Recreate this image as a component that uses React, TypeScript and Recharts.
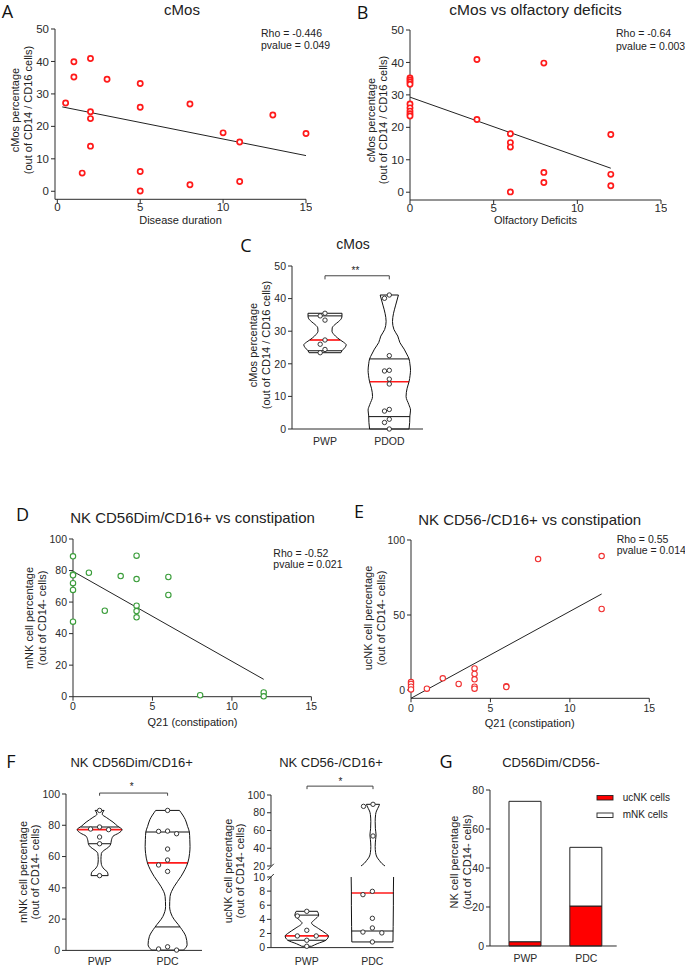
import React from 'react'
import { ScatterChart, Scatter, XAxis, YAxis, ReferenceLine, BarChart, Bar } from 'recharts'

// ---- A: cMos vs disease duration
const durationX = [0.5, 1, 1, 1.5, 2, 2, 2, 2, 3, 5, 5, 5, 5, 8, 8, 10, 11, 11, 13, 15]
const durationCmos = [27.2, 39.9, 35.2, 5.6, 40.9, 24.5, 22.4, 13.9, 34.5, 33.2, 25.9, 6.1, 0.1, 26.9, 2.0, 18.0, 15.2, 3.0, 23.5, 17.8]
const fitA = [{ x: 0.3, y: 26.0 }, { x: 15, y: 11.0 }]

// ---- B: cMos vs olfactory deficits
const olfactoryX = [0, 0, 0, 0, 0, 0, 0, 0, 0, 4, 4, 6, 6, 6, 6, 8, 8, 8, 12, 12, 12]
const olfactoryCmos = [35.2, 34.6, 34.0, 33.3, 27.2, 26.0, 25.0, 24.2, 23.5, 40.9, 22.4, 18.0, 15.3, 13.9, 0.1, 39.8, 6.1, 3.0, 17.8, 5.5, 2.0]
const fitB = [{ x: 0, y: 29.3 }, { x: 12, y: 7.4 }]

// ---- C: cMos violins
const cmosPWP = [35.5, 34.7, 33.4, 27.3, 26.0, 24.4, 23.4]
const cmosPDOD = [41.1, 40.1, 22.5, 18.0, 17.8, 15.3, 13.8, 6.0, 5.5, 3.0, 2.0, 0.0]
const statsCmosPWP = [24.0, 27.3, 34.7] // q1, median, q3
const statsCmosPDOD = [3.8, 14.5, 21.5]
// relative density [value, width 0..1]
const densCmosPWP = [[23.4, 0.75], [24, 0.8], [25, 0.94], [25.8, 1], [26.6, 0.88], [27.3, 0.72], [28, 0.58], [29, 0.42], [30, 0.33], [31, 0.34], [32, 0.46], [33, 0.65], [34, 0.78], [34.7, 0.8], [35.5, 0.8]]
const densCmosPDOD = [[0, 0.93], [2, 0.96], [4, 0.97], [5.8, 1.0], [7.5, 0.92], [10, 0.79], [12.5, 0.84], [14.5, 0.93], [16.5, 0.98], [18, 1.0], [20, 0.97], [21.5, 0.93], [23, 0.82], [24.5, 0.7], [26.5, 0.5], [28.5, 0.4], [30.5, 0.22], [33, 0.15], [35.5, 0.2], [38, 0.3], [41.1, 0.43]]

// ---- D: mNK vs constipation
const constipationD = [0, 0, 0, 0, 0, 0, 1, 2, 3, 4, 4, 4, 4, 4, 6, 6, 8, 12, 12]
const mnkD = [89, 77.5, 77, 72, 67.7, 47.6, 78.6, 54.5, 76.5, 89.4, 74.6, 57.7, 54.3, 50.3, 75.9, 64.5, 0.9, 2.7, 0.2]
const fitD = [{ x: 0, y: 79.5 }, { x: 12, y: 11 }]

// ---- E: ucNK vs constipation
const constipationE = [0, 0, 0, 0, 1, 2, 3, 4, 4, 4, 4, 4, 6, 6, 8, 12, 12]
const ucnkE = [5.3, 4.0, 2.2, 0.4, 0.9, 7.8, 4.0, 14.4, 10.7, 7.1, 2.2, 0.9, 2.5, 2.0, 87.3, 89.3, 54.0]
const fitE = [{ x: 0, y: -5.5 }, { x: 12, y: 64 }]

// ---- F: violins mNK / ucNK
const mnkPWP = [89.5, 78.9, 77.6, 77.2, 72.5, 68.2, 47.8]
const mnkPDC = [89.5, 76.3, 76.1, 74.6, 64.8, 57.8, 54.6, 50.5, 2.3, 0.9, 0.2]
const statsMnkPWP = [68.2, 77.2, 78.9]
const statsMnkPDC = [15, 56, 75.7]
const densMnkPWP = [[47.8, 0.38], [50, 0.35], [52, 0.2], [55, 0.08], [58, 0.06], [62, 0.08], [64, 0.2], [66, 0.4], [68.2, 0.5], [70, 0.52], [73, 0.6], [75, 0.85], [77.2, 1.0], [79.5, 0.8], [82, 0.6], [85, 0.3], [87, 0.12], [88.5, 0.15], [89.5, 0.2]]
const densMnkPDC = [[0.2, 0.71], [3.6, 0.87], [9, 0.81], [14.7, 0.57], [21.7, 0.21], [28, 0.09], [34.5, 0.11], [41, 0.3], [47.3, 0.6], [56, 0.9], [62, 0.98], [66.5, 1.0], [71, 0.99], [75.7, 0.97], [79.3, 0.89], [83.6, 0.79], [89.5, 0.53]]

const ucnkPWP = [5.14, 4.48, 2.45, 1.65, 1.65, 1.04, 0.19]
const ucnkPDC = [89.5, 87.2, 53.8, 7.97, 7.5, 4.15, 2.78, 2.2, 2.08, 0.8]
const statsUcnkPWP = [1.04, 1.65, 4.6]
const statsUcnkPDC = [2.35, 7.73, null]
const densUcnkPWP = [[0.19, 0.23], [0.55, 0.48], [1.04, 0.88], [1.65, 1.0], [2.0, 0.88], [2.7, 0.54], [3.5, 0.22], [3.9, 0.34], [4.6, 0.55], [5.14, 0.49]]
const densUcnkPDC = [[0.8, 0.95], [3, 0.96], [6, 0.97], [8, 0.97], [10, 0.98], [20, 0.55], [23, 0.4], [26, 0.3], [30, 0.18], [35, 0.12], [42, 0.1], [50, 0.12], [55, 0.14], [62, 0.11], [70, 0.1], [78, 0.12], [82, 0.16], [85, 0.22], [88, 0.28], [89.5, 0.3]]

// ---- G: stacked means
const groupsG = ['PWP', 'PDC']
const ucnkMean = [2.2, 20.5]
const mnkMean = [72.0, 30.1]

const FONT = '"Liberation Sans", Arial, Helvetica, sans-serif'
const AX = '#2a2a2a'
const RED = '#ff1a1a'
const H = 0.33 // violin max half width in category units

const axisProps = (size = 10.5) => ({
  stroke: AX,
  tick: { fill: AX, fontSize: size, fontFamily: FONT },
  tickSize: 4,
  interval: 0 as const,
})

function frame(l: number, t: number, r: number, b: number, o: any = {}) {
  const yw = o.yw ?? 40, xh = o.xh ?? 22, mt = o.mt ?? 6, mr = o.mr ?? 6, mb = o.mb ?? 0
  return {
    style: { position: 'absolute' as const, left: l - yw, top: t - mt },
    width: r - l + yw + mr,
    height: b - t + mt + xh + mb,
    margin: { top: mt, right: mr, bottom: mb, left: 0 },
    yw, xh,
  }
}

const pts = (xs: number[], ys: number[]) => xs.map((x, i) => ({ x, y: ys[i] }))
const noDot = () => null
const ring = (color: string, r: number, sw: number) => (p: any) =>
  <circle cx={p.cx} cy={p.cy} r={r} fill="#fff" stroke={color} strokeWidth={sw} />

function widthAt(d: number[][], v: number) {
  for (let i = 0; i < d.length - 1; i++) {
    const [v0, r0] = d[i], [v1, r1] = d[i + 1]
    if (v >= v0 && v <= v1) return r0 + (r1 - r0) * (v - v0) / (v1 - v0)
  }
  return v < d[0][0] ? d[0][1] : d[d.length - 1][1]
}

function clip(d: number[][], lo: number, hi: number) {
  const out = d.filter(([v]) => v >= lo && v <= hi)
  if (lo > d[0][0] && (!out.length || out[0][0] > lo)) out.unshift([lo, widthAt(d, lo)])
  if (hi < d[d.length - 1][0] && out[out.length - 1][0] < hi) out.push([hi, widthAt(d, hi)])
  return out
}

function violin(id: string, c: number, d: number[][], stats: (number | null)[], lo = -1e9, hi = 1e9) {
  const p = clip(d, lo, hi)
  const side = (s: number) => p.map(([v, r]) => ({ x: c + s * r * H, y: v })).reverse()
  const els: any[] = [-1, 1].map(s => (
    <Scatter key={id + s} data={side(s)} line={{ stroke: '#111', strokeWidth: 1 }} lineJointType="monotoneY"
      shape={noDot} isAnimationActive={false} />
  ))
  const seg = (v: number, color: string, w: number, k: string) => {
    const r = widthAt(d, v) * H
    return <ReferenceLine key={id + k} segment={[{ x: c - r, y: v }, { x: c + r, y: v }]} stroke={color} strokeWidth={w} ifOverflow="visible" />
  }
  const first = d[0][0], last = d[d.length - 1][0]
  if (first >= lo) els.push(seg(first, '#111', 1, 'b'))
  if (last <= hi) els.push(seg(last, '#111', 1, 't'))
  stats.forEach((v, i) => {
    if (v != null && v >= lo && v <= hi && i !== 1) els.push(seg(v, '#111', 1, 's' + i))
  })
  if (stats[1] != null && stats[1] >= lo && stats[1] <= hi) els.push(seg(stats[1], RED, 1.7, 'm'))
  return els
}

// simple beeswarm: offsets picked so rings do not overlap (in pixels)
function swarm(c: number, values: number[], stepPx: number, pxV: number, pxC: number, minD: number) {
  const placed: { v: number; dx: number }[] = []
  const out: { x: number; y: number }[] = new Array(values.length)
  const order = values.map((v, i) => ({ v, i })).sort((a, b) => b.v - a.v)
  for (const p of order) {
    for (const s of [0, -1, 1, -2, 2, -3, 3]) {
      const dx = s * stepPx
      const ok = placed.every(q => Math.hypot(q.dx - dx, (q.v - p.v) * pxV) >= minD)
      if (ok) { placed.push({ v: p.v, dx }); out[p.i] = { x: c + dx / pxC, y: p.v }; break }
    }
  }
  return out
}

function Txt({ x, y, children, size = 11, anchor = 'middle', rotate = false, family = FONT, color = '#222' }: any) {
  const tx = anchor === 'middle' ? '-50%' : anchor === 'end' ? '-100%' : '0'
  return (
    <div style={{
      position: 'absolute', left: x, top: y, whiteSpace: 'nowrap', lineHeight: 1,
      transform: `translate(${tx},-50%)${rotate ? ' rotate(-90deg)' : ''}`,
      fontSize: size, fontFamily: family, color,
    }}>{children}</div>
  )
}

function Corr({ f, xAxis, yAxis, children }: any) {
  return (
    <div style={f.style}>
      <ScatterChart width={f.width} height={f.height} margin={f.margin}>
        {xAxis}
        {yAxis}
        {children}
      </ScatterChart>
    </div>
  )
}

const xNum = (f: any, domain: number[], ticks: number[], size = 10.5, margin = 2) => (
  <XAxis type="number" dataKey="x" domain={domain} ticks={ticks} height={f.xh} {...axisProps(size)} tickMargin={margin} />
)
const yNum = (f: any, domain: number[], ticks: number[], size = 10.5) => (
  <YAxis type="number" dataKey="y" domain={domain} ticks={ticks} width={f.yw} {...axisProps(size)} />
)
const xCat = (f: any, domain: number[], names: string[], margin: number, hide = false) => (
  <XAxis type="number" dataKey="x" domain={domain} ticks={[1, 2]} tickFormatter={(v: number) => names[v - 1]}
    height={f.xh} hide={hide} {...axisProps(10.5)} tickLine={false} tickMargin={margin} />
)

export default function App() {
  const fA = frame(55, 29, 306, 199.3)
  const fB = frame(410, 30, 661, 200)
  const fC = frame(292, 266, 423, 429)
  const fD = frame(73.3, 539, 311.7, 696.7)
  const fE = frame(411, 540, 649.3, 698.3)
  const fF1 = frame(65.7, 794.3, 201.7, 950.7, { mt: 12 })
  const fF2u = frame(270.7, 795, 393.3, 866, { mt: 20, xh: 0, mb: 8 })
  const fF2l = frame(270.7, 876.7, 393.3, 947.3, { mt: 8 })
  const fG = frame(490, 790, 616.7, 946)

  const gData = groupsG.map((g, i) => ({ g, uc: ucnkMean[i], m: mnkMean[i] }))
  const bracket = (id: string, y: number, drop: number) => [
    <ReferenceLine key={id + 'h'} segment={[{ x: 1, y }, { x: 2, y }]} stroke="#444" ifOverflow="visible" />,
    <ReferenceLine key={id + 'a'} segment={[{ x: 1, y }, { x: 1, y: y - drop }]} stroke="#444" ifOverflow="visible" />,
    <ReferenceLine key={id + 'b'} segment={[{ x: 2, y }, { x: 2, y: y - drop }]} stroke="#444" ifOverflow="visible" />,
  ]
  const ucPDCLow = ucnkPDC.filter(v => v < 10)
  const ucPDCHigh = ucnkPDC.filter(v => v >= 20)

  return (
    <div style={{ position: 'relative', width: 685, height: 970, background: '#fff', overflow: 'hidden', fontFamily: FONT }}>
      <style>{'body{margin:0}'}</style>

      {/* A */}
      <Corr f={fA} xAxis={xNum(fA, [-0.14, 15], [0, 5, 10, 15], 11.5, 0)} yAxis={yNum(fA, [-2.47, 50], [0, 10, 20, 30, 40, 50], 11.5)}>
        <ReferenceLine segment={fitA} stroke="#222" strokeWidth={1} />
        <Scatter data={pts(durationX, durationCmos)} shape={ring(RED, 2.6, 1.7)} isAnimationActive={false} />
      </Corr>

      {/* B */}
      <Corr f={fB} xAxis={xNum(fB, [0, 15], [0, 5, 10, 15], 11.5, 0)} yAxis={yNum(fB, [-2.4, 50], [0, 10, 20, 30, 40, 50], 11.5)}>
        <ReferenceLine segment={fitB} stroke="#222" strokeWidth={1} />
        <Scatter data={pts(olfactoryX, olfactoryCmos)} shape={ring(RED, 2.6, 1.7)} isAnimationActive={false} />
      </Corr>

      {/* C */}
      <Corr f={fC} xAxis={xCat(fC, [0.487, 2.524], ['PWP', 'PDOD'], 5)} yAxis={yNum(fC, [0, 50], [0, 10, 20, 30, 40, 50])}>
        {violin('cp', 1, densCmosPWP, statsCmosPWP)}
        {violin('cd', 2, densCmosPDOD, statsCmosPDOD)}
        {bracket('cb', 47, 1.1)}
        <Scatter data={swarm(1, cmosPWP, 4.8, 3.26, 64.3, 4.6)} shape={ring('#222', 2.2, 0.9)} isAnimationActive={false} />
        <Scatter data={swarm(2, cmosPDOD, 4.8, 3.26, 64.3, 4.6)} shape={ring('#222', 2.2, 0.9)} isAnimationActive={false} />
      </Corr>

      {/* D */}
      <Corr f={fD} xAxis={xNum(fD, [0, 15], [0, 5, 10, 15])} yAxis={yNum(fD, [0, 100], [0, 20, 40, 60, 80, 100])}>
        <ReferenceLine segment={fitD} stroke="#222" strokeWidth={1} />
        <Scatter data={pts(constipationD, mnkD)} shape={ring('#3a9d3a', 2.7, 1.1)} isAnimationActive={false} />
      </Corr>

      {/* E */}
      <Corr f={fE} xAxis={xNum(fE, [0, 15], [0, 5, 10, 15])} yAxis={yNum(fE, [-5.53, 100], [0, 50, 100])}>
        <ReferenceLine segment={fitE} stroke="#222" strokeWidth={1} />
        <Scatter data={pts(constipationE, ucnkE)} shape={ring('#f03030', 2.7, 1.1)} isAnimationActive={false} />
      </Corr>

      {/* F left */}
      <Corr f={fF1} xAxis={xCat(fF1, [0.506, 2.506], ['PWP', 'PDC'], 3)} yAxis={yNum(fF1, [0, 100], [0, 20, 40, 60, 80, 100])}>
        {violin('mp', 1, densMnkPWP, statsMnkPWP)}
        {violin('md', 2, densMnkPDC, statsMnkPDC)}
        {bracket('fb', 100.6, 1.7)}
        <Scatter data={swarm(1, mnkPWP, 9, 1.564, 68, 6)} shape={ring('#222', 2.2, 0.9)} isAnimationActive={false} />
        <Scatter data={swarm(2, mnkPDC, 9, 1.564, 68, 6)} shape={ring('#222', 2.2, 0.9)} isAnimationActive={false} />
      </Corr>

      {/* F right, upper segment of broken axis */}
      <Corr f={fF2u} xAxis={xCat(fF2u, [0.4545, 2.312], ['PWP', 'PDC'], 6, true)} yAxis={yNum(fF2u, [20, 100], [20, 40, 60, 80, 100])}>
        {violin('uu', 2, densUcnkPDC, statsUcnkPDC, 20, 100)}
        {bracket('ub', 110, 3.4)}
        <Scatter data={swarm(2, ucPDCHigh, 9.5, 0.8875, 66, 6)} shape={ring('#222', 2.2, 0.9)} isAnimationActive={false} />
      </Corr>

      {/* F right, lower segment */}
      <Corr f={fF2l} xAxis={xCat(fF2l, [0.4545, 2.312], ['PWP', 'PDC'], 6)} yAxis={yNum(fF2l, [0, 10], [0, 2, 4, 6, 8, 10])}>
        {violin('up', 1, densUcnkPWP, statsUcnkPWP)}
        {violin('ul', 2, densUcnkPDC, statsUcnkPDC, 0, 10)}
        <Scatter data={swarm(1, ucnkPWP, 9.5, 7.06, 66, 6)} shape={ring('#222', 2.2, 0.9)} isAnimationActive={false} />
        <Scatter data={swarm(2, ucPDCLow, 9.5, 7.06, 66, 6)} shape={ring('#222', 2.2, 0.9)} isAnimationActive={false} />
      </Corr>

      {/* G */}
      <div style={fG.style}>
        <BarChart width={fG.width} height={fG.height} margin={fG.margin} data={gData} barSize={32}>
          <XAxis dataKey="g" padding={{ left: 5, right: 0 }} height={fG.xh} {...axisProps(10.5)} tickLine={false} tickMargin={5} />
          <YAxis type="number" domain={[0, 80]} ticks={[0, 20, 40, 60, 80]} width={fG.yw} {...axisProps(10.5)} />
          <Bar dataKey="uc" stackId="s" fill="#ff0000" stroke="#222" strokeWidth={1} isAnimationActive={false} />
          <Bar dataKey="m" stackId="s" fill="#fff" stroke="#222" strokeWidth={1} isAnimationActive={false} />
        </BarChart>
      </div>

      {/* axis break marks and legend swatches */}
      <svg width={685} height={970} style={{ position: 'absolute', left: 0, top: 0, pointerEvents: 'none' }}>
        <line x1={267.8} y1={870} x2={273.8} y2={863.8} stroke={AX} strokeWidth={1} />
        <line x1={267.8} y1={880.2} x2={273.8} y2={874} stroke={AX} strokeWidth={1} />
        <rect x={597} y={795.5} width={16} height={4.5} fill="#ff0000" stroke="#222" strokeWidth={0.9} />
        <rect x={597} y={813} width={16} height={4.5} fill="#fff" stroke="#222" strokeWidth={0.9} />
      </svg>

      {/* panel letters */}
      {[['A', 7.5, 10.5], ['B', 362.5, 11.5], ['C', 246, 245], ['D', 22.5, 513.5], ['E', 359, 510.5], ['F', 11, 761], ['G', 446, 761]].map(([l, x, y]) => (
        <Txt key={l as string} x={x} y={y} size={18} family='"Open Sans", sans-serif' color="#111">{l}</Txt>
      ))}

      {/* titles */}
      <Txt x={182} y={9} size={15}>cMos</Txt>
      <Txt x={535.5} y={9.5} size={15.5}>cMos vs olfactory deficits</Txt>
      <Txt x={353} y={244} size={14}>cMos</Txt>
      <Txt x={192.5} y={516.7} size={15}>NK CD56Dim/CD16+ vs constipation</Txt>
      <Txt x={529.7} y={518.5} size={15}>NK CD56-/CD16+ vs constipation</Txt>
      <Txt x={131.7} y={762} size={13}>NK CD56Dim/CD16+</Txt>
      <Txt x={331} y={762} size={13}>NK CD56-/CD16+</Txt>
      <Txt x={551} y={762} size={13}>CD56Dim/CD56-</Txt>

      {/* stats */}
      <Txt x={261} y={33} size={10.5} anchor="start">Rho = -0.446</Txt>
      <Txt x={261} y={45} size={10.5} anchor="start">pvalue = 0.049</Txt>
      <Txt x={616} y={33} size={10.5} anchor="start">Rho = -0.64</Txt>
      <Txt x={616} y={46} size={10.5} anchor="start">pvalue = 0.003</Txt>
      <Txt x={273.3} y={553} size={10.5} anchor="start">Rho = -0.52</Txt>
      <Txt x={273.3} y={563.5} size={10.5} anchor="start">pvalue = 0.021</Txt>
      <Txt x={616.7} y={539} size={10.5} anchor="start">Rho = 0.55</Txt>
      <Txt x={616.7} y={550} size={10.5} anchor="start">pvalue = 0.014</Txt>

      {/* significance */}
      <Txt x={355.5} y={271} size={10}>**</Txt>
      <Txt x={131.7} y={787} size={10}>*</Txt>
      <Txt x={340.5} y={782} size={10}>*</Txt>

      {/* x axis titles */}
      <Txt x={180.5} y={220} size={11}>Disease duration</Txt>
      <Txt x={535.5} y={220} size={11}>Olfactory Deficits</Txt>
      <Txt x={192.5} y={721.7} size={11}>Q21 (constipation)</Txt>
      <Txt x={529.7} y={723.3} size={11}>Q21 (constipation)</Txt>

      {/* y axis titles */}
      <Txt x={15} y={110} size={11} rotate>cMos percentage</Txt>
      <Txt x={28} y={110} size={11} rotate>(out of CD14 / CD16 cells)</Txt>
      <Txt x={371} y={120} size={11} rotate>cMos percentage</Txt>
      <Txt x={382.5} y={120} size={11} rotate>(out of CD14 / CD16 cells)</Txt>
      <Txt x={253} y={345} size={11} rotate>cMos percentage</Txt>
      <Txt x={266} y={345} size={11} rotate>(out of CD14 / CD16 cells)</Txt>
      <Txt x={29} y={618} size={11} rotate>mNK cell percentage</Txt>
      <Txt x={42} y={618} size={11} rotate>(out of CD14- cells)</Txt>
      <Txt x={368} y={618} size={11} rotate>ucNK cell percentage</Txt>
      <Txt x={380.5} y={618} size={11} rotate>(out of CD14- cells)</Txt>
      <Txt x={22.5} y={872} size={11} rotate>mNK cell percentage</Txt>
      <Txt x={34.5} y={872} size={11} rotate>(out of CD14- cells)</Txt>
      <Txt x={228} y={871} size={11} rotate>ucNK cell percentage</Txt>
      <Txt x={240} y={871} size={11} rotate>(out of CD14- cells)</Txt>
      <Txt x={453.5} y={862} size={11} rotate>NK cell percentage</Txt>
      <Txt x={466.5} y={862} size={11} rotate>(out of CD14- cells)</Txt>

      {/* G legend text */}
      <Txt x={622.7} y={797.7} size={10} anchor="start">ucNK cells</Txt>
      <Txt x={622.7} y={815.3} size={10} anchor="start">mNK cells</Txt>
    </div>
  )
}
